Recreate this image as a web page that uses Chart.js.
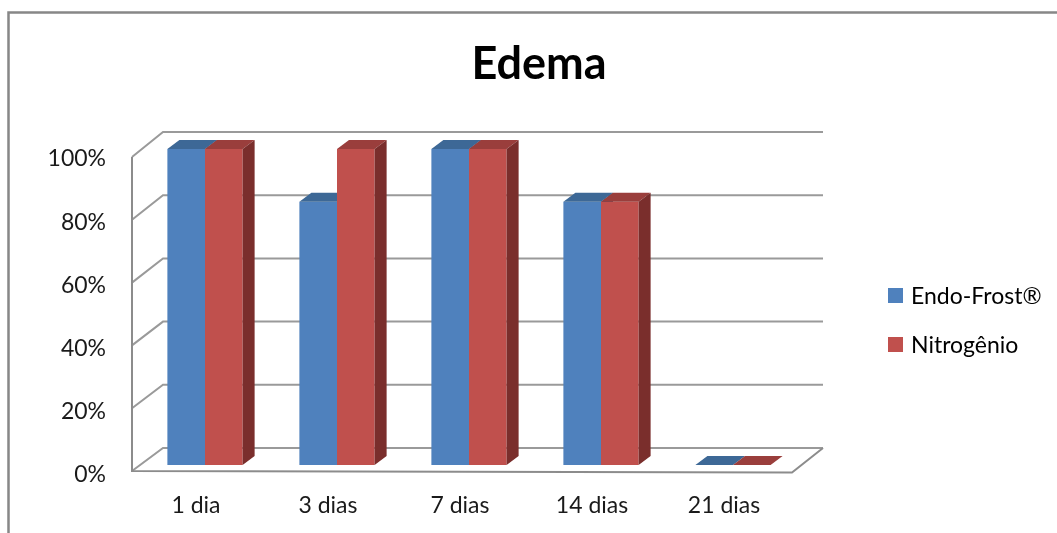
<!DOCTYPE html>
<html>
<head>
<meta charset="utf-8">
<title>Edema</title>
<script src="https://cdn.jsdelivr.net/npm/chart.js@4/dist/chart.umd.min.js"></script>
<style>
  html, body { margin: 0; padding: 0; background: #ffffff; }
  #wrap { width: 1057px; height: 533px; position: relative; }
</style>
</head>
<body>
<div id="wrap"><canvas id="chart" width="1057" height="533"></canvas></div>
<script>
// Chart data
const chartTitle = 'Edema';
const categories = ['1 dia', '3 dias', '7 dias', '14 dias', '21 dias'];
const seriesNames = ['Endo-Frost®', 'Nitrogênio'];
const endoFrost = [100, 83.3, 100, 83.3, 0];
const nitrogenio = [100, 100, 100, 83.3, 0];
const yTickStep = 20;

// Office-style colours: front, top and side faces of each bar series
const palette = [
  { front: '#4F81BD', top: '#3D6896', side: '#2F5078' },
  { front: '#C0504D', top: '#9A3E3C', side: '#7A2E2C' }
];

const FONT = 'Lato, "Open Sans", "DejaVu Sans", sans-serif';

// Oblique depth offsets, relative to the plane the bar fronts stand in
const BAR_DEPTH = { dx: 12, dy: -9 };
const BACK = { dx: 24, dy: -17 };
const FRONT = { dx: -7, dy: 6 };

const threeD = {
  id: 'threeD',
  beforeDraw(chart) {
    const ctx = chart.ctx;
    ctx.save();
    // outer frame (top and left edges)
    ctx.strokeStyle = '#878787';
    ctx.lineWidth = 2.5;
    ctx.beginPath();
    ctx.moveTo(8.5, chart.height);
    ctx.lineTo(8.5, 12.5);
    ctx.lineTo(chart.width, 12.5);
    ctx.stroke();

    // title
    ctx.fillStyle = '#000';
    ctx.font = 'bold 45px ' + FONT;
    ctx.textAlign = 'center';
    ctx.textBaseline = 'alphabetic';
    ctx.fillText(chartTitle, 539, 79);

    // legend
    ctx.font = '23px ' + FONT;
    ctx.textAlign = 'left';
    ctx.textBaseline = 'middle';
    chart.data.datasets.forEach((ds, i) => {
      const cy = 295.5 + i * 49;
      ctx.fillStyle = ds.backgroundColor;
      ctx.fillRect(888, cy - 7.5, 15, 15);
      ctx.fillStyle = '#000';
      ctx.fillText(ds.label, 911, cy + 1);
    });
    ctx.restore();
  },
  beforeDatasetsDraw(chart) {
    const { ctx, chartArea: a, scales: { y } } = chart;
    const fy = v => y.getPixelForValue(v) + FRONT.dy + v * 0.02;
    const ticks = y.ticks.map(t => t.value);
    ctx.save();
    ctx.lineCap = 'butt';
    ctx.strokeStyle = '#9A9A9A';
    ctx.lineWidth = 2;
    ticks.forEach(v => {
      const py = y.getPixelForValue(v);
      ctx.beginPath();
      // side wall
      ctx.moveTo(a.left + FRONT.dx, fy(v));
      ctx.lineTo(a.left + BACK.dx, py + BACK.dy);
      // back wall
      ctx.lineTo(a.right + BACK.dx, py + BACK.dy);
      ctx.stroke();
    });
    const y0 = y.getPixelForValue(0);
    ctx.strokeStyle = '#8C8C8C';
    ctx.beginPath();
    // front edge of the side wall
    ctx.moveTo(a.left + FRONT.dx, fy(y.max));
    ctx.lineTo(a.left + FRONT.dx, fy(0));
    // floor front and right edges
    ctx.lineTo(a.right + FRONT.dx, fy(0) + 1.5);
    ctx.lineTo(a.right + BACK.dx, y0 + BACK.dy);
    ctx.stroke();
    ctx.restore();
  },
  beforeDatasetDraw() {
    return false; // bars are painted below, category by category
  },
  afterDatasetsDraw(chart) {
    const ctx = chart.ctx;
    const metas = chart.data.datasets.map((d, i) => chart.getDatasetMeta(i));
    const n = chart.data.labels.length;
    for (let i = 0; i < n; i++) {
      metas.forEach((meta, d) => {
        const el = meta.data[i];
        if (!el) return;
        const p = el.getProps(['x', 'y', 'base', 'width'], true);
        const l = p.x - p.width / 2, r = p.x + p.width / 2;
        const top = Math.min(p.y, p.base), bot = Math.max(p.y, p.base);
        el.draw(ctx);
        const c = palette[d];
        ctx.save();
        // top face
        ctx.fillStyle = c.top;
        ctx.beginPath();
        ctx.moveTo(l, top);
        ctx.lineTo(r, top);
        ctx.lineTo(r + BAR_DEPTH.dx, top + BAR_DEPTH.dy);
        ctx.lineTo(l + BAR_DEPTH.dx, top + BAR_DEPTH.dy);
        ctx.closePath();
        ctx.fill();
        // side face
        if (bot - top > 0.5) {
          ctx.fillStyle = c.side;
          ctx.beginPath();
          ctx.moveTo(r, top);
          ctx.lineTo(r + BAR_DEPTH.dx, top + BAR_DEPTH.dy);
          ctx.lineTo(r + BAR_DEPTH.dx, bot + BAR_DEPTH.dy);
          ctx.lineTo(r, bot);
          ctx.closePath();
          ctx.fill();
        }
        ctx.restore();
      });
    }
  }
};

new Chart(document.getElementById('chart'), {
  type: 'bar',
  data: {
    labels: categories,
    datasets: [
      { label: seriesNames[0], data: endoFrost, backgroundColor: palette[0].front },
      { label: seriesNames[1], data: nitrogenio, backgroundColor: palette[1].front }
    ]
  },
  options: {
    responsive: false,
    animation: false,
    devicePixelRatio: 1,
    categoryPercentage: 0.57,
    barPercentage: 1.0,
    borderWidth: 0,
    layout: { padding: { left: 0, top: 149, right: 258, bottom: 0 } },
    plugins: {
      legend: { display: false },
      title: { display: false },
      tooltip: { enabled: false }
    },
    scales: {
      x: {
        grid: { display: false, drawTicks: false },
        border: { display: false },
        ticks: {
          color: '#1a1a1a',
          font: { family: FONT, size: 23 },
          padding: 27,
          labelOffset: -9,
          maxRotation: 0,
          autoSkip: false
        },
        afterFit(s) { s.height = 68; }
      },
      y: {
        min: 0,
        max: 100,
        grid: { display: false, drawTicks: false },
        border: { display: false },
        ticks: {
          stepSize: yTickStep,
          color: '#1a1a1a',
          font: { family: FONT, size: 23 },
          padding: 33,
          labelOffset: 10,
          callback: v => v + '%'
        },
        afterFit(s) { s.width = 139; }
      }
    }
  },
  plugins: [threeD]
});
</script>
</body>
</html>
